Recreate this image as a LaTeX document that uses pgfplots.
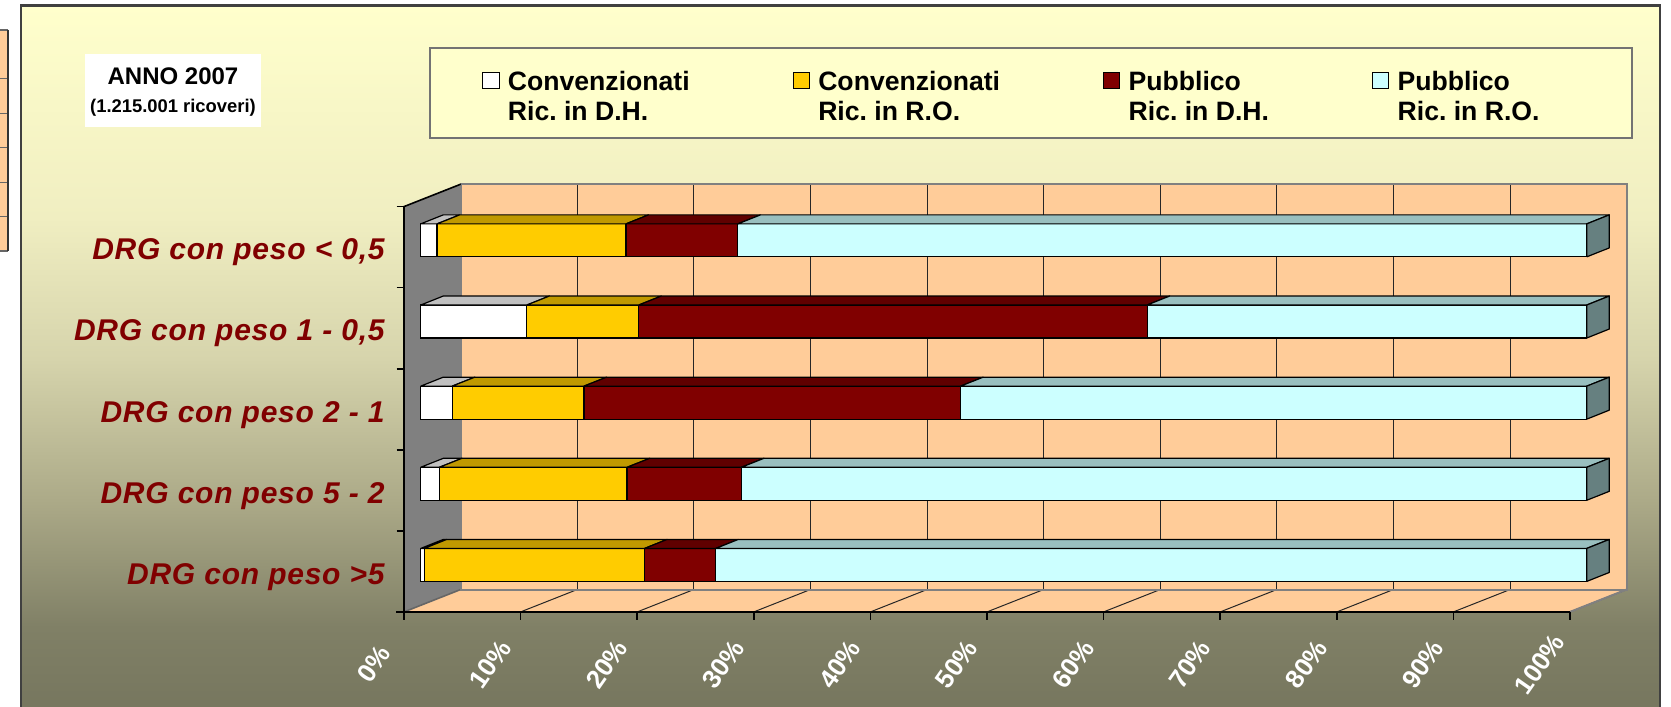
\documentclass[border=0pt]{standalone}
\usepackage{pgfplots}
\pgfplotsset{compat=1.18}
\usepackage{pgfplotstable}
\usepackage{fontspec}
\setmainfont{Liberation Sans}
\frenchspacing

\definecolor{peach}{RGB}{255,204,153}
\definecolor{wallgray}{RGB}{128,128,128}
\definecolor{cW}{RGB}{255,255,255}
\definecolor{cY}{RGB}{255,204,0}
\definecolor{cR}{RGB}{128,0,0}
\definecolor{cC}{RGB}{204,255,255}
\definecolor{tW}{RGB}{192,192,192}
\definecolor{tY}{RGB}{192,153,0}
\definecolor{tR}{RGB}{96,0,0}
\definecolor{tC}{RGB}{153,191,191}
\definecolor{sC}{RGB}{102,128,128}
\definecolor{labred}{RGB}{128,0,0}
\definecolor{legfill}{RGB}{255,255,204}
\definecolor{bg0}{RGB}{118,118,94}
\definecolor{bg1}{RGB}{128,128,102}
\definecolor{bg2}{RGB}{172,170,136}
\definecolor{bg3}{RGB}{214,212,172}
\definecolor{bg4}{RGB}{240,238,193}
\definecolor{bg5}{RGB}{255,255,204}

\pgfdeclareverticalshading{bgshade}{100bp}{color(0bp)=(bg0); color(25bp)=(bg0); color(31bp)=(bg1); color(40bp)=(bg2); color(50bp)=(bg3); color(60bp)=(bg4); color(75bp)=(bg5); color(100bp)=(bg5)}

% shares (%) of admissions per DRG weight class
\pgfplotstableread{
y dhc roc dhp rop
0 0.3 18.9 6.1 74.7
1 1.6 16.1 9.8 72.5
2 2.7 11.3 32.3 53.7
3 9.1 9.6 43.6 37.7
4 1.4 16.2 9.6 72.8
}\drgdata

\pgfplotstableread{
u v
0 0
1 0
1 1
0 1
0 0
}\corners

\def\dX{1.938}
\def\dY{0.1109}
\def\hb{0.2034}

\newcommand\topface[4]{\addplot[forget plot, fill=#4, draw=black, line width=0.6pt, line join=round] table[x expr={#2+\thisrow{u}*(#3-(#2))+\thisrow{v}*\dX}, y expr={#1+\hb+\thisrow{v}*\dY}] {\corners};}
\newcommand\sideface[1]{\addplot[forget plot, fill=sC, draw=black, line width=0.6pt, line join=round] table[x expr={100+\thisrow{v}*\dX}, y expr={#1-\hb+\thisrow{u}*2*\hb+\thisrow{v}*\dY}] {\corners};}

\begin{document}
\begin{tikzpicture}
\begin{scope}[x=0.5pt,y=-0.5pt]
\useasboundingbox (0,0) rectangle (1671,703);
\fill[white] (0,0) rectangle (1671,703);
% fragment of neighbouring table
\fill[peach] (0,30) rectangle (8.3,251);
\foreach \yy in {30,78.7,113.3,147.7,182.7,216.7,251} \draw[black!60, line width=0.6pt] (0,\yy) -- (8.3,\yy);
\draw[black!80, line width=1pt] (8.3,30) -- (8.3,251);
% chart area
\shade[shading=bgshade] (20.7,5.7) rectangle (1660,712);
\draw[black!75, line width=1.2pt] (20.7,712) -- (20.7,5.7) -- (1660,5.7) -- (1660,712);
% title box
\fill[white] (85,54) rectangle (261,127);
\node[font=\fontsize{12}{14}\selectfont\bfseries, anchor=base, inner sep=0pt] at (173,84.3) {ANNO 2007};
\node[font=\fontsize{9.2}{11}\selectfont\bfseries, anchor=base, inner sep=0pt] at (173,112.7) {(1.215.001 ricoveri)};
% legend box
\draw[fill=legfill, draw=black!55, line width=1pt] (429.5,48) rectangle (1631.6,138.5);
% walls
\fill[wallgray] (404,611.9) -- (460.7,589.5) -- (460.7,184.2) -- (404,206.6) -- cycle;
\fill[peach] (460.7,184.2) rectangle (1626.7,589.5);
\foreach \k in {1,...,9} \draw[black!85, line width=0.5pt] ({460.7+116.6*\k},184.2) -- ({460.7+116.6*\k},589.5);
\fill[peach] (404,611.9) -- (1570,611.9) -- (1626.7,589.5) -- (460.7,589.5) -- cycle;
\foreach \k in {1,...,10} \draw[black!85, line width=0.5pt] ({404+116.6*\k},611.9) -- ({460.7+116.6*\k},589.5);
\draw[black!60, line width=0.8pt] (404,611.9) -- (460.7,589.5);
\draw[black!50, line width=1pt] (460.7,589.5) -- (460.7,184.2) -- (1626.7,184.2) -- (1626.7,589.5) -- cycle;
\draw[black!50, line width=1pt] (1570,611.9) -- (1626.7,589.5);
% front axes
\draw[black, line width=0.8pt] (396,611.9) -- (1570,611.9);
\foreach \k in {0,...,10} \draw[black, line width=0.8pt] ({404+116.6*\k},611.9) -- ({404+116.6*\k},620);
\draw[black, line width=0.8pt] (404,611.9) -- (404,206.6) -- (460.7,184.2);
\foreach \k in {0,...,5} \draw[black, line width=0.8pt] (396.7,{611.9-81.06*\k}) -- (404,{611.9-81.06*\k});
\end{scope}

\begin{axis}[
  at={(210.35pt,-302.75pt)}, anchor=south west,
  scale only axis, width=583pt, height=202.85pt,
  xmin=0, xmax=100, ymin=-0.5, ymax=4.5,
  clip=false,
  axis line style={draw=none},
  major tick length=0pt,
  /pgf/number format/assume math mode=true,
  xtick={0,10,...,100},
  xticklabel={\pgfmathprintnumber{\tick}\%},
  xticklabel style={font=\fontsize{13}{15}\selectfont\bfseries, text=white, anchor=center, xshift=-23.6pt, yshift=-29.4pt, rotate=55},
  ytick={0,...,4},
  yticklabels={DRG con peso >5, DRG con peso 5 - 2, DRG con peso 2 - 1, {DRG con peso 1 - 0,5}, {DRG con peso < 0,5}},
  yticklabel style={font=\fontsize{15}{17}\selectfont\bfseries\itshape\addfontfeature{LetterSpace=2.5}, text=labred, anchor=base east, inner sep=0pt, xshift=-17.85pt, yshift=-9.7pt},
  legend columns=4, reverse legend,
  legend image code/.code={\draw[#1, draw=black, line width=0.5pt] (0pt,1pt) rectangle (8.15pt,9.3pt);},
  legend style={at={(0.0525,1.3215)}, anchor=north west, draw=none, fill=none, inner sep=0pt,
    cells={anchor=base west}, nodes={inner sep=0pt},
    font=\fontsize{13.3}{14.9}\selectfont\bfseries,
    /tikz/every odd column/.append style={column sep=4.15pt},
    /tikz/every even column/.append style={column sep=51.5pt}},
]
\addplot[xbar, bar width=0.4067, bar shift=0pt, fill=cC, draw=black, line width=0.6pt] table[x expr={\thisrow{dhc}+\thisrow{roc}+\thisrow{dhp}+\thisrow{rop}}, y=y] {\drgdata};
\addlegendentry{\begin{tabular}[t]{@{}l@{}}Pubblico\\Ric. in R.O.\end{tabular}}
\addplot[xbar, bar width=0.4067, bar shift=0pt, fill=cR, draw=black, line width=0.6pt] table[x expr={\thisrow{dhc}+\thisrow{roc}+\thisrow{dhp}}, y=y] {\drgdata};
\addlegendentry{\begin{tabular}[t]{@{}l@{}}Pubblico\\Ric. in D.H.\end{tabular}}
\addplot[xbar, bar width=0.4067, bar shift=0pt, fill=cY, draw=black, line width=0.6pt] table[x expr={\thisrow{dhc}+\thisrow{roc}}, y=y] {\drgdata};
\addlegendentry{\begin{tabular}[t]{@{}l@{}}Convenzionati\\Ric. in R.O.\end{tabular}}
\addplot[xbar, bar width=0.4067, bar shift=0pt, fill=cW, draw=black, line width=0.6pt] table[x=dhc, y=y] {\drgdata};
\addlegendentry{\begin{tabular}[t]{@{}l@{}}Convenzionati\\Ric. in D.H.\end{tabular}}
% top faces (cumulative bounds of the same shares)
\topface{4}{0}{1.4}{tW}\topface{4}{1.4}{17.6}{tY}\topface{4}{17.6}{27.2}{tR}\topface{4}{27.2}{100}{tC}
\topface{3}{0}{9.1}{tW}\topface{3}{9.1}{18.7}{tY}\topface{3}{18.7}{62.3}{tR}\topface{3}{62.3}{100}{tC}
\topface{2}{0}{2.7}{tW}\topface{2}{2.7}{14.0}{tY}\topface{2}{14.0}{46.3}{tR}\topface{2}{46.3}{100}{tC}
\topface{1}{0}{1.6}{tW}\topface{1}{1.6}{17.7}{tY}\topface{1}{17.7}{27.5}{tR}\topface{1}{27.5}{100}{tC}
\topface{0}{0}{0.3}{tW}\topface{0}{0.3}{19.2}{tY}\topface{0}{19.2}{25.3}{tR}\topface{0}{25.3}{100}{tC}
\sideface{4}\sideface{3}\sideface{2}\sideface{1}\sideface{0}
\end{axis}
\end{tikzpicture}
\end{document}
